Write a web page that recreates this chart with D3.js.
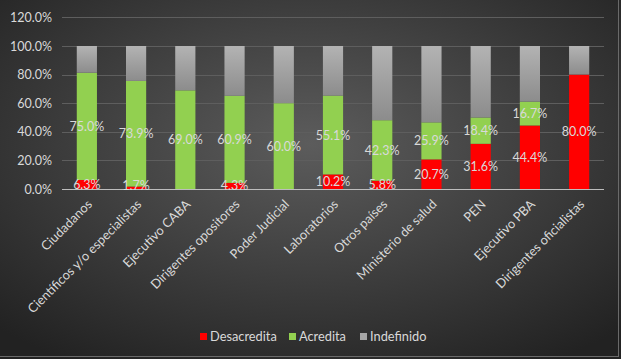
<!DOCTYPE html>
<html><head><meta charset="utf-8">
<script src="https://cdn.jsdelivr.net/npm/d3@7"></script>
<style>html,body{margin:0;padding:0;background:#2b2b2b;}svg{display:block;}</style>
</head><body>
<svg id="c" width="621" height="359"></svg>
<script>
const categories = ["Ciudadanos","Científicos y/o especialistas","Ejecutivo CABA","Dirigentes opositores","Poder Judicial","Laboratorios","Otros países","Ministerio de salud","PEN","Ejecutivo PBA","Dirigentes oficialistas"];
const desacredita = [6.3,1.7,0,4.3,0,10.2,5.8,20.7,31.6,44.4,80.0];
const acredita = [75.0,73.9,69.0,60.9,60.0,55.1,42.3,25.9,18.4,16.7,0];
const indefinido = categories.map((c,i)=>+(100-desacredita[i]-acredita[i]).toFixed(1));
const yTicks = [0,20,40,60,80,100,120];
const seriesNames = ["Desacredita","Acredita","Indefinido"];
const colors = {"Desacredita":"#ff0000","Acredita":"#92d050","Indefinido":"url(#gGray)"};
const legendColors = {"Desacredita":"#ff0000","Acredita":"#92d050","Indefinido":"#a6a6a6"};

const svg = d3.select("#c");
const W=621,H=359;
const defs = svg.append("defs");
const rg = defs.append("radialGradient").attr("id","bg").attr("cx","50%").attr("cy","40%").attr("r","72%");
rg.append("stop").attr("offset","0%").attr("stop-color","#5c5c5c");
rg.append("stop").attr("offset","100%").attr("stop-color","#222222");
const lg = defs.append("linearGradient").attr("id","gGray").attr("x1",0).attr("y1",0).attr("x2",0).attr("y2",1);
lg.append("stop").attr("offset","0%").attr("stop-color","#b3b3b3");
lg.append("stop").attr("offset","100%").attr("stop-color","#8c8c8c");

svg.append("rect").attr("width",W).attr("height",H).attr("fill","url(#bg)");
svg.append("line").attr("x1",618.5).attr("x2",618.5).attr("y1",0).attr("y2",356).attr("stroke","#6a6a6a");
svg.append("line").attr("x1",0).attr("x2",619).attr("y1",356.5).attr("y2",356.5).attr("stroke","#6a6a6a");

const x = d3.scaleBand().domain(categories).range([62,604]).paddingInner(0.59).paddingOuter(0.3);
const y = d3.scaleLinear().domain([0,120]).range([189,17.4]);

// gridlines
svg.append("g").selectAll("line").data(yTicks.filter(t=>t>0)).join("line")
  .attr("x1",62).attr("x2",604).attr("y1",d=>Math.round(y(d))+0.5).attr("y2",d=>Math.round(y(d))+0.5)
  .attr("stroke","#5e5e5e").attr("stroke-width",1);

// y axis labels
const yAxis = d3.axisLeft(y).tickValues(yTicks).tickFormat(d=>d.toFixed(1)+"%").tickSize(0).tickPadding(10);
const ya = svg.append("g").attr("transform","translate(62,0)").call(yAxis);
ya.select(".domain").remove();
ya.selectAll("text").attr("fill","#d9d9d9").style("font-family","Lato, 'Open Sans', sans-serif").style("font-size","12.5px");

// stacked bars
const rows = categories.map((c,i)=>({cat:c,Desacredita:desacredita[i],Acredita:acredita[i],Indefinido:indefinido[i]}));
const stack = d3.stack().keys(seriesNames)(rows);
const g = svg.append("g");
stack.forEach(s=>{
  g.selectAll(null).data(s).join("rect")
   .attr("x",d=>x(d.data.cat)).attr("width",x.bandwidth())
   .attr("y",d=>y(d[1])).attr("height",d=>Math.max(0,y(d[0])-y(d[1])))
   .attr("fill",colors[s.key]);
});

// zero axis line
svg.append("line").attr("x1",62).attr("x2",604).attr("y1",y(0)+0.5).attr("y2",y(0)+0.5).attr("stroke","#bdbdbd").attr("stroke-width",1.2);

// data labels (Desacredita, Acredita)
stack.filter(s=>s.key!=="Indefinido").forEach(s=>{
  svg.append("g").selectAll("text").data(s.filter(d=>d.data[s.key]>0)).join("text")
   .attr("x",d=>x(d.data.cat)+x.bandwidth()/2)
   .attr("y",d=>{ const m=(y(d[0])+y(d[1]))/2; return Math.min(m, y(0)-4)+4.5; })
   .attr("text-anchor","middle").attr("fill","#d9d9d9")
   .style("font-family","Lato, 'Open Sans', sans-serif").style("font-size","12.5px")
   .text(d=>d.data[s.key].toFixed(1)+"%");
});

// x labels
svg.append("g").selectAll("text").data(categories).join("text")
  .attr("transform",d=>`translate(${x(d)+x.bandwidth()/2+6},${y(0)+16}) rotate(-45)`)
  .attr("text-anchor","end").attr("fill","#d9d9d9")
  .style("font-family","Lato, 'Open Sans', sans-serif").style("font-size","12.8px")
  .text(d=>d);

// legend
const legX=[200,289,360];
const lgG = svg.append("g");
seriesNames.forEach((n,i)=>{
  lgG.append("rect").attr("x",legX[i]).attr("y",333).attr("width",7).attr("height",7).attr("fill",legendColors[n]);
  lgG.append("text").attr("x",legX[i]+10).attr("y",341).attr("fill","#d9d9d9")
    .style("font-family","Lato, 'Open Sans', sans-serif").style("font-size","12.8px").text(n);
});
</script>
</body></html>
